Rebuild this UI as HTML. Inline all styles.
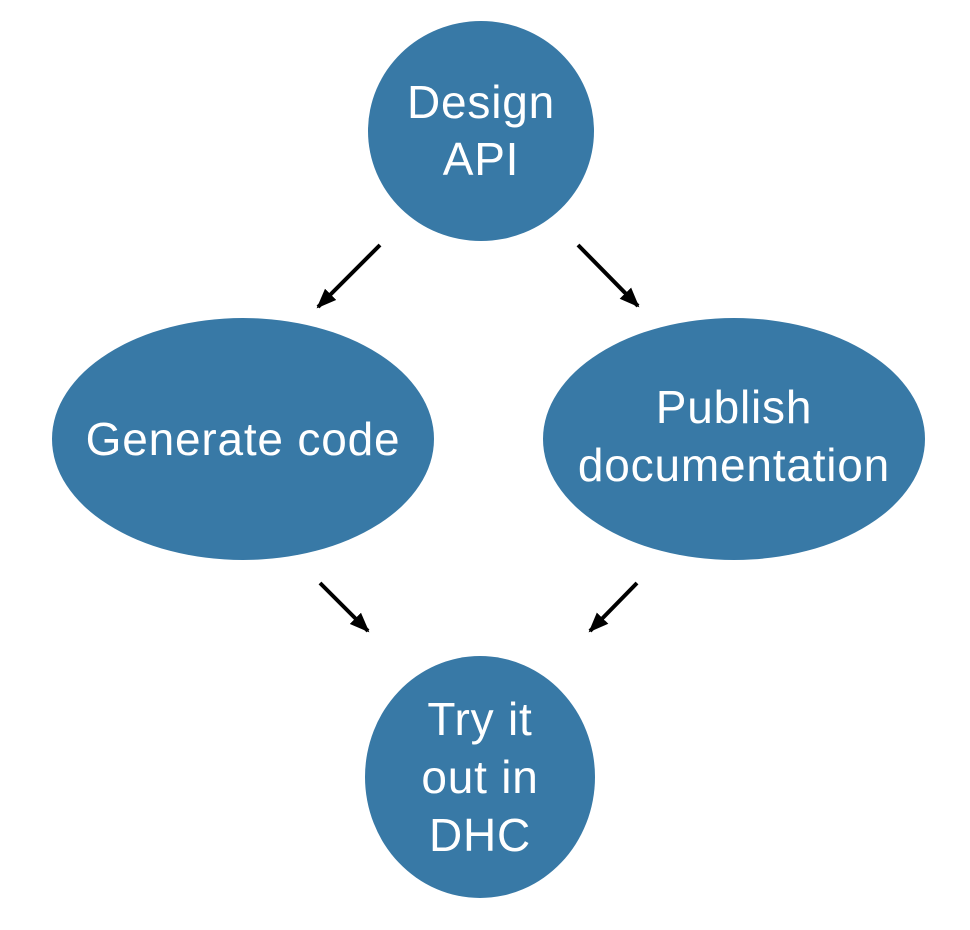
<!DOCTYPE html>
<html><head><style>
html,body{margin:0;padding:0;background:#fff;}
svg{display:block}
text{font-family:"Liberation Sans",sans-serif;font-size:46px;fill:#fff;text-anchor:middle;letter-spacing:0.8px;}
</style></head><body>
<svg width="970" height="930" viewBox="0 0 970 930">
<defs>
<marker id="b" markerWidth="20" markerHeight="20" refX="18" refY="10" orient="auto" markerUnits="userSpaceOnUse"><path d="M0,2 L20,10 L0,18 z" fill="#000"/></marker></defs>
<g fill="#3879a6">
<ellipse cx="481" cy="131" rx="113" ry="110"/>
<ellipse cx="243" cy="439" rx="191" ry="121"/>
<ellipse cx="734" cy="439" rx="191" ry="121"/>
<ellipse cx="480" cy="777" rx="115" ry="121"/>
</g>
<g stroke="#000" stroke-width="4" marker-end="url(#b)">
<line x1="380" y1="245" x2="318" y2="307"/>
<line x1="578" y1="245" x2="638" y2="306"/>
<line x1="320" y1="583" x2="368" y2="631"/>
<line x1="637" y1="583" x2="590" y2="631"/>
</g>
<text x="481" y="118">Design</text>
<text x="481" y="175">API</text>
<text x="243" y="455">Generate code</text>
<text x="734" y="423">Publish</text>
<text x="734" y="481">documentation</text>
<text x="480" y="735">Try it</text>
<text x="480" y="793">out in</text>
<text x="480" y="851">DHC</text>
</svg>
</body></html>
